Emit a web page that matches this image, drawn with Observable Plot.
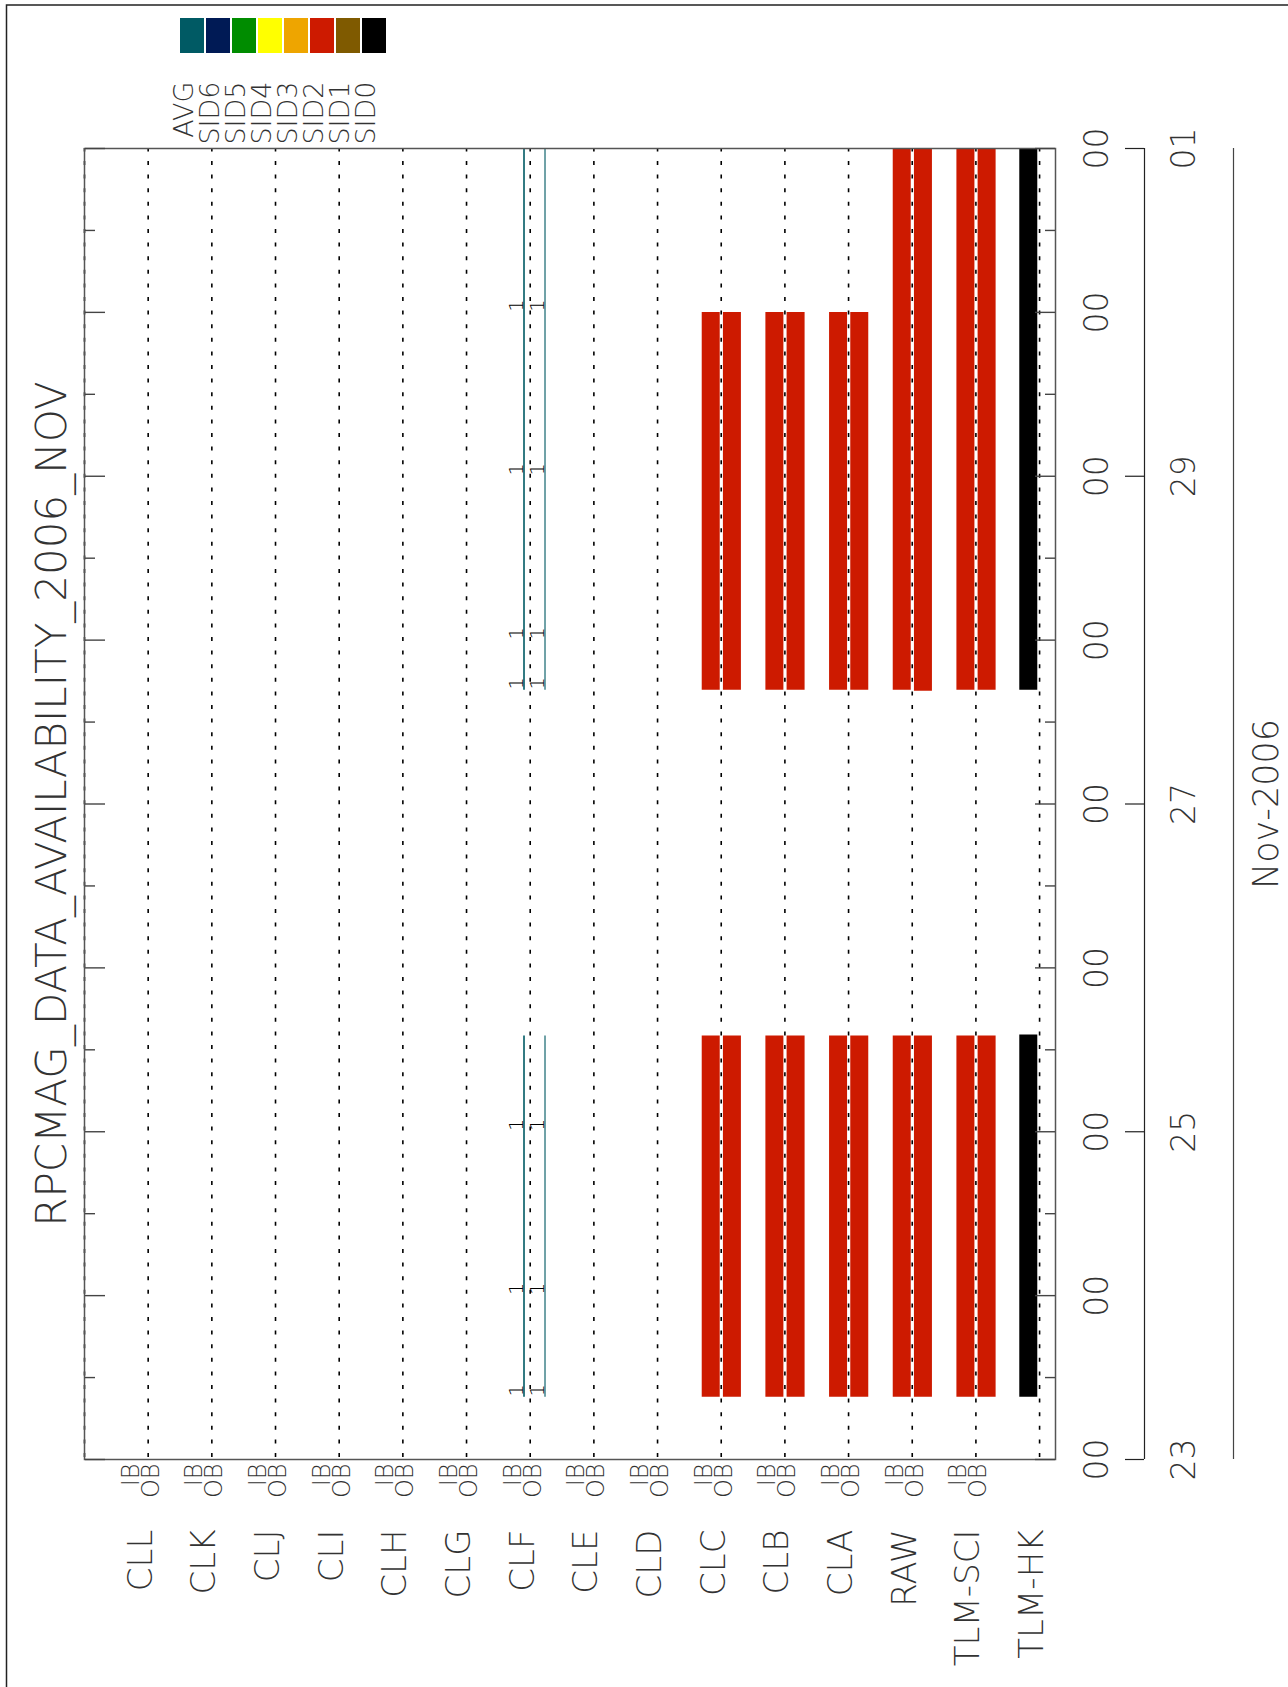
<!DOCTYPE html>
<html><head><meta charset="utf-8">
<script src="https://cdn.jsdelivr.net/npm/d3@7"></script>
<script src="https://cdn.jsdelivr.net/npm/@observablehq/plot@0.6"></script>
<style>
html,body{margin:0;padding:0;background:#fff;}
#wrap{position:relative;width:1288px;height:1687px;overflow:hidden;background:#fff;}
#main{position:absolute;left:0;top:0;}
#legend{position:absolute;left:160px;top:0;}
</style></head>
<body><div id="wrap"><div id="main"></div><div id="legend"></div></div>
<script>
// ---------- data ----------
const title = "RPCMAG_DATA_AVAILABILITY_2006_NOV";
const categories = ["CLL","CLK","CLJ","CLI","CLH","CLG","CLF","CLE","CLD","CLC","CLB","CLA","RAW","TLM-SCI","TLM-HK"];
const channelCategories = ["CLL","CLK","CLJ","CLI","CLH","CLG","CLF","CLE","CLD","CLC","CLB","CLA","RAW","TLM-SCI"];
const channels = ["IB","OB"];
const sidNames = ["AVG","SID6","SID5","SID4","SID3","SID2","SID1","SID0"];
const sidColors = ["#005a64","#001a55","#008c00","#ffff00","#eea500","#cd1a00","#7f5a00","#000000"];
const timeDomain = ["2006-11-23T00:00Z","2006-12-01T00:00Z"];
const dayTicks = ["2006-11-23","2006-11-24","2006-11-25","2006-11-26","2006-11-27","2006-11-28","2006-11-29","2006-11-30","2006-12-01"];
const halfDayTicks = ["2006-11-23T12:00Z","2006-11-24T12:00Z","2006-11-25T12:00Z","2006-11-26T12:00Z","2006-11-27T12:00Z","2006-11-28T12:00Z","2006-11-29T12:00Z","2006-11-30T12:00Z"];
const hourLabel = "00";
const dateTicks = ["2006-11-23","2006-11-25","2006-11-27","2006-11-29","2006-12-01"];
const dateLabels = ["23","25","27","29","01"];
const monthLabel = "Nov-2006";
// [category, channel, sid, start, end]
const segments = [
  ["CLF","IB","AVG","2006-11-23T09:07Z","2006-11-25T14:02Z"],
  ["CLF","OB","AVG","2006-11-23T09:07Z","2006-11-25T14:02Z"],
  ["CLF","IB","AVG","2006-11-27T16:39Z","2006-12-01T00:00Z"],
  ["CLF","OB","AVG","2006-11-27T16:39Z","2006-12-01T00:00Z"],
  ["CLC","IB","SID2","2006-11-23T09:07Z","2006-11-25T14:02Z"],
  ["CLC","OB","SID2","2006-11-23T09:07Z","2006-11-25T14:02Z"],
  ["CLC","IB","SID2","2006-11-27T16:39Z","2006-11-30T00:00Z"],
  ["CLC","OB","SID2","2006-11-27T16:39Z","2006-11-30T00:00Z"],
  ["CLB","IB","SID2","2006-11-23T09:07Z","2006-11-25T14:02Z"],
  ["CLB","OB","SID2","2006-11-23T09:07Z","2006-11-25T14:02Z"],
  ["CLB","IB","SID2","2006-11-27T16:39Z","2006-11-30T00:00Z"],
  ["CLB","OB","SID2","2006-11-27T16:39Z","2006-11-30T00:00Z"],
  ["CLA","IB","SID2","2006-11-23T09:07Z","2006-11-25T14:02Z"],
  ["CLA","OB","SID2","2006-11-23T09:07Z","2006-11-25T14:02Z"],
  ["CLA","IB","SID2","2006-11-27T16:39Z","2006-11-30T00:00Z"],
  ["CLA","OB","SID2","2006-11-27T16:39Z","2006-11-30T00:00Z"],
  ["RAW","IB","SID2","2006-11-23T09:07Z","2006-11-25T14:02Z"],
  ["RAW","OB","SID2","2006-11-23T09:07Z","2006-11-25T14:02Z"],
  ["RAW","IB","SID2","2006-11-27T16:39Z","2006-12-01T00:00Z"],
  ["RAW","OB","SID2","2006-11-27T16:30Z","2006-12-01T00:00Z"],
  ["TLM-SCI","IB","SID2","2006-11-23T09:07Z","2006-11-25T14:02Z"],
  ["TLM-SCI","OB","SID2","2006-11-23T09:07Z","2006-11-25T14:02Z"],
  ["TLM-SCI","IB","SID2","2006-11-27T16:39Z","2006-12-01T00:00Z"],
  ["TLM-SCI","OB","SID2","2006-11-27T16:39Z","2006-12-01T00:00Z"],
  ["TLM-HK","HK","SID0","2006-11-23T09:07Z","2006-11-25T14:10Z"],
  ["TLM-HK","HK","SID0","2006-11-27T16:39Z","2006-12-01T00:00Z"]
];
const fileMarkCategory = "CLF";
const fileMarkLabel = "1";
const fileStarts = ["2006-11-23T09:07Z","2006-11-24T00:00Z","2006-11-25T00:00Z","2006-11-27T16:39Z","2006-11-28T00:00Z","2006-11-29T00:00Z","2006-11-30T00:00Z"];

// ---------- build ----------
const T = s => new Date(s);
const xIndex = c => categories.indexOf(c) + 1;
const xDomain = [0, categories.length + 0.25];
const rows = segments.map(([cat, ch, sid, start, end]) => ({cat, ch, sid, start: T(start), end: T(end)}));
const barOffset = {IB: -10.5, OB: 10.7, HK: -11.3};
const lineOffset = {IB: -6.2, OB: 14.8};
const lineOpacity = {IB: 1, OB: 0.7};
const labelOffset = {IB: -9.5, OB: 10.5};
const ink = "#333";
const font = "'DejaVu Sans', sans-serif";

const marks = [];
// outer page border (top and left edges)
marks.push(Plot.frame({stroke: "#222", strokeWidth: 1.5, insetLeft: -78, insetTop: -143.5, insetRight: -400, insetBottom: -400}));
// bars
for (const ch of ["IB","OB","HK"]) {
  marks.push(Plot.ruleX(rows.filter(d => d.ch === ch && d.sid !== "AVG"), {
    x: d => xIndex(d.cat), y1: "start", y2: "end", stroke: "sid", strokeWidth: 18, dx: barOffset[ch]
  }));
}
// AVG thin lines with file-start markers
for (const ch of channels) {
  marks.push(Plot.ruleX(rows.filter(d => d.ch === ch && d.sid === "AVG"), {
    x: d => xIndex(d.cat), y1: "start", y2: "end", stroke: "sid", strokeWidth: 1.6, strokeOpacity: lineOpacity[ch], dx: lineOffset[ch]
  }));
  marks.push(Plot.text(fileStarts, {
    x: () => xIndex(fileMarkCategory), y: d => T(d), text: () => fileMarkLabel,
    rotate: -90, lineAnchor: "bottom", textAnchor: "middle", dx: lineOffset[ch] - 1, dy: -7,
    fontSize: 19, fill: "#000", fontWeight: 200
  }));
}
// dotted guide lines
marks.push(Plot.ruleX([0, ...categories.map(xIndex)], {stroke: "#000", strokeWidth: 1.6, strokeDasharray: "4,9.6", strokeDashoffset: -13}));
// frame
marks.push(Plot.frame({stroke: "#555", strokeWidth: 1.5}));
// time ticks, inward on both sides
marks.push(Plot.axisY(dayTicks.map(T), {anchor: "right", frameAnchor: "left", tickSize: 20, fill: "none", stroke: "#444", strokeWidth: 1.4, label: null}));
marks.push(Plot.axisY(halfDayTicks.map(T), {anchor: "right", frameAnchor: "left", tickSize: 10, fill: "none", stroke: "#444", strokeWidth: 1.4, label: null}));
marks.push(Plot.axisY(dayTicks.map(T), {anchor: "left", frameAnchor: "right", tickSize: 20, fill: "none", stroke: "#444", strokeWidth: 1.4, label: null}));
marks.push(Plot.axisY(halfDayTicks.map(T), {anchor: "left", frameAnchor: "right", tickSize: 10, fill: "none", stroke: "#444", strokeWidth: 1.4, label: null}));
// second (date) axis line and outer line
marks.push(Plot.ruleX([xDomain[1]], {dx: 89, stroke: "#222", strokeWidth: 1.2}));
marks.push(Plot.axisY(dateTicks.map(T), {anchor: "left", frameAnchor: "right", dx: 89, tickSize: 19, fill: "none", stroke: "#222", strokeWidth: 1.2, label: null}));
marks.push(Plot.ruleX([xDomain[1]], {dx: 178, stroke: "#444", strokeWidth: 1.2}));
// texts
marks.push(Plot.text(dayTicks, {y: d => T(d), text: () => hourLabel, frameAnchor: "right", textAnchor: "middle", dx: 42, rotate: -90, fontSize: 33, fill: ink, fontWeight: 200}));
marks.push(Plot.text(dateTicks, {y: d => T(d), text: (d, i) => dateLabels[i], frameAnchor: "right", textAnchor: "middle", dx: 129, rotate: -90, fontSize: 33, fill: ink, fontWeight: 200}));
marks.push(Plot.text([monthLabel], {text: d => d, frameAnchor: "right", textAnchor: "middle", dx: 211, rotate: -90, fontSize: 35, fill: ink, fontWeight: 200}));
marks.push(Plot.text([title], {text: d => d, frameAnchor: "left", textAnchor: "middle", dx: -32, rotate: -90, fontSize: 42, fill: ink, fontWeight: 200}));
for (const ch of channels) {
  marks.push(Plot.text(channelCategories, {x: xIndex, text: () => ch, frameAnchor: "bottom", dy: 4, dx: labelOffset[ch], rotate: -90, textAnchor: "end", fontSize: 24, fill: ink, fontWeight: 200}));
}
marks.push(Plot.text(categories, {x: xIndex, text: d => d, frameAnchor: "bottom", dy: 70, dx: 3.5, rotate: -90, textAnchor: "end", fontSize: 34, fill: ink, fontWeight: 200}));

const main = Plot.plot({
  width: 1288, height: 1687,
  marginLeft: 84, marginRight: 233, marginTop: 148, marginBottom: 228,
  x: {domain: xDomain, axis: null},
  y: {type: "utc", domain: timeDomain.map(T), axis: null},
  color: {domain: sidNames, range: sidColors},
  style: {fontFamily: font, background: "transparent"},
  marks
});
document.getElementById("main").appendChild(main);

const legend = Plot.plot({
  width: 240, height: 145,
  marginLeft: 16.7, marginRight: 10, marginTop: 18, marginBottom: 92,
  x: {domain: sidNames, axis: null, paddingInner: 0.06, paddingOuter: 0},
  color: {domain: sidNames, range: sidColors},
  style: {fontFamily: font, background: "transparent"},
  marks: [
    Plot.cell(sidNames, {x: d => d, fill: d => d}),
    Plot.text(sidNames, {x: d => d, text: d => d, frameAnchor: "bottom", dy: 28, rotate: -90, textAnchor: "end", fontSize: 27, fill: ink, fontWeight: 200})
  ]
});
document.getElementById("legend").appendChild(legend);
</script>
</body></html>
